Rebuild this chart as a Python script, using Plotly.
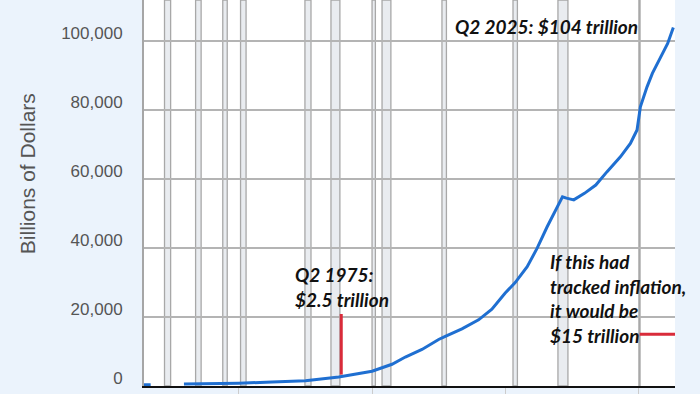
import plotly.graph_objects as go

# ---- data (billions of dollars), decimal years ----
years = [1945.75, 1946.75, None,
         1951.75, 1955.0, 1960.0, 1965.0, 1970.0, 1975.0, 1980.0, 1983.0, 1985.0,
         1987.5, 1990.0, 1991.0, 1993.5, 1996.0, 1998.0, 2000.0, 2001.5, 2003.3,
         2004.8, 2006.3, 2007.8, 2008.6, 2009.2, 2010.3, 2011.9, 2013.6, 2015.3,
         2017.3, 2018.8, 2019.8, 2020.3, 2021.3, 2022.1, 2023.3, 2024.4, 2025.25]
debt = [360, 380, None,
        560, 650, 800, 1150, 1550, 2600, 4300, 6300, 8400,
        10600, 13500, 14400, 16600, 19200, 22300, 27000, 30000, 34600,
        40000, 46200, 52000, 54900, 54500, 54000, 55900, 58300, 62200,
        66500, 70400, 74300, 81000, 86800, 90700, 95500, 99400, 104000]

recession_starts = [1948.83, 1953.5, 1957.58, 1960.25, 1969.92, 1973.83, 1980.0,
                    1981.5, 1990.5, 2001.17, 2007.92, 2020.08]
recession_ends = [1949.75, 1954.33, 1958.25, 1961.08, 1970.83, 1975.17, 1980.5,
                  1982.83, 1991.17, 2001.83, 2009.42, 2020.25]

y_ticks = [0, 20000, 40000, 60000, 80000, 100000]
y_tick_labels = ["0", "20,000", "40,000", "60,000", "80,000", "100,000"]
x_ticks = [1960, 1980, 2000, 2020]

mark_1975_x = 1975.375
mark_1975_y = [3300, 20900]
inflation_level = 15000
inflation_x = [2020.2, 2025.5]

BG = "#ebf3fc"
fig = go.Figure()

fig.add_trace(go.Scatter(x=years, y=debt, mode="lines",
                         line=dict(color="#1f6fd1", width=3),
                         connectgaps=False, hoverinfo="skip", showlegend=False))

shapes = []
for s, e in zip(recession_starts, recession_ends):
    shapes.append(dict(type="rect", xref="x", yref="paper", x0=s, x1=e, y0=0, y1=1,
                       fillcolor="#e9ecf0", line=dict(color="#a8a8a8", width=1.3),
                       layer="below"))
shapes.append(dict(type="line", xref="x", yref="y", x0=mark_1975_x, x1=mark_1975_x,
                   y0=mark_1975_y[0], y1=mark_1975_y[1],
                   line=dict(color="#d92b3a", width=3)))
shapes.append(dict(type="line", xref="x", yref="y", x0=inflation_x[0], x1=inflation_x[1],
                   y0=inflation_level, y1=inflation_level,
                   line=dict(color="#d92b3a", width=3)))

afont = dict(family="Lato", size=19, color="#111111", weight="bold", style="italic")
annotations = [
    dict(x=1992.1, y=104400, xref="x", yref="y", text="Q2 2025: $104 trillion",
         showarrow=False, xanchor="left", yanchor="middle", align="left", font=afont),
    dict(x=1968.2, y=28700, xref="x", yref="y", text="Q2 1975:<br>$2.5 trillion",
         showarrow=False, xanchor="left", yanchor="middle", align="left", font=afont),
    dict(x=2006.5, y=25400, xref="x", yref="y",
         text="If this had<br>tracked inflation,<br>it would be<br>$15 trillion",
         showarrow=False, xanchor="left", yanchor="middle", align="left", font=afont),
    dict(x=-0.2194, y=0.55, xref="paper", yref="paper", text="Billions of Dollars",
         textangle=-90, showarrow=False, xanchor="center", yanchor="middle",
         font=dict(family="Liberation Sans", size=21, color="#555555")),
]

fig.update_layout(
    width=700, height=394,
    margin=dict(l=144, r=25, t=0, b=8, pad=0),
    paper_bgcolor=BG, plot_bgcolor="white",
    shapes=shapes, annotations=annotations,
    xaxis=dict(range=[1945.75, 2025.5], showgrid=False, zeroline=False,
               showline=True, linecolor="#111111", linewidth=2,
               tickvals=x_ticks, ticks="outside", ticklen=8, tickcolor="#cccccc",
               tickwidth=1, showticklabels=False),
    yaxis=dict(range=[0, 112000], tickvals=y_ticks, ticktext=y_tick_labels,
               showgrid=True, gridcolor="#b4b4b4", gridwidth=2, zeroline=False,
               showline=True, linecolor="#a6a6a6", linewidth=2,
               ticks="", ticklabelposition="outside", ticklabelshift=-8,
               ticklabelstandoff=16,
               tickfont=dict(family="Liberation Sans", size=17, color="#555555")),
)

fig.write_html("out.html", config={"displayModeBar": False},
               post_script="document.body.style.margin='0';document.body.style.background='%s';" % BG)
